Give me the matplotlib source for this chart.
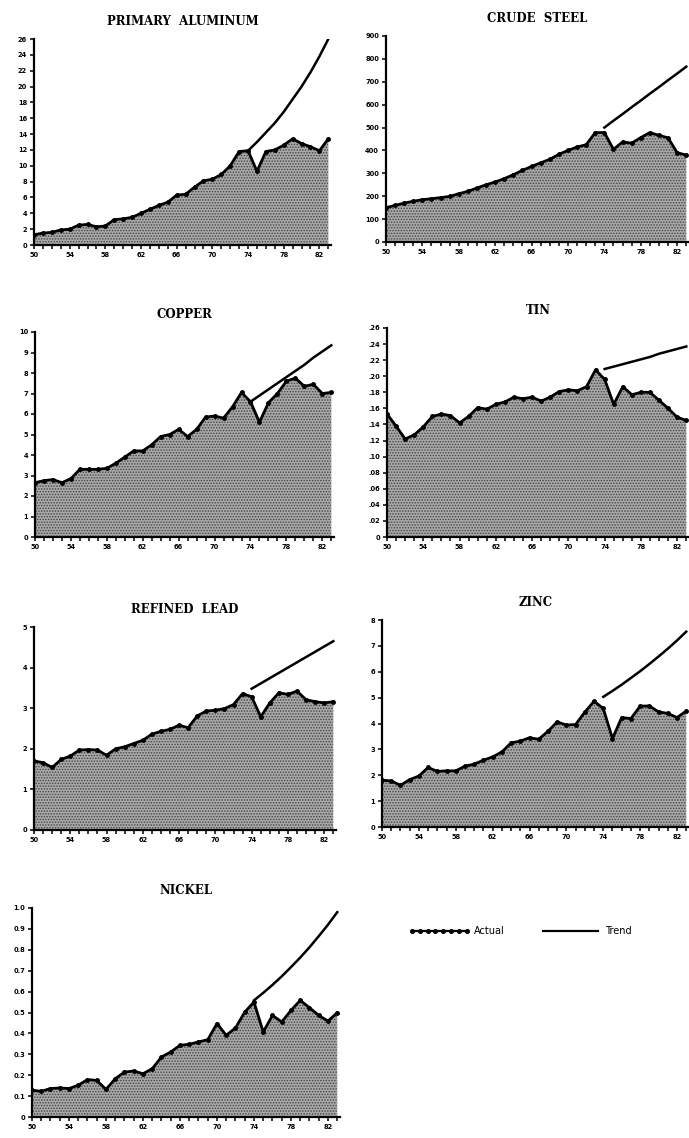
import matplotlib
matplotlib.use('Agg')
import matplotlib.pyplot as plt
from matplotlib.lines import Line2D
import numpy as np

W, H = 689, 1138

# years 1950-1983, plotted as two-digit years
years = list(range(50, 84))
trend_years = list(range(74, 84))

aluminum = [1.3, 1.5, 1.6, 1.9, 2.0, 2.5, 2.6, 2.3, 2.4, 3.2, 3.3, 3.5, 4.0, 4.5, 5.0, 5.4, 6.3,
            6.4, 7.3, 8.1, 8.3, 8.9, 10.0, 11.8, 11.9, 9.3, 11.8, 12.0, 12.6, 13.4, 12.8, 12.4, 11.9, 13.4]
aluminum_trend = [11.9, 13.0, 14.2, 15.4, 16.8, 18.4, 20.0, 21.8, 23.8, 26.0]

steel = [150, 160, 170, 178, 185, 189, 194, 199, 211, 221, 236, 250, 262, 277, 294, 313, 330,
         346, 361, 383, 400, 415, 425, 478, 478, 405, 437, 432, 456, 478, 466, 455, 390, 380]
steel_trend = [500, 530, 559, 589, 618, 648, 677, 707, 736, 766]

copper = [2.65, 2.75, 2.8, 2.65, 2.85, 3.3, 3.3, 3.3, 3.35, 3.6, 3.9, 4.2, 4.2, 4.5, 4.9, 5.0, 5.25,
          4.9, 5.25, 5.85, 5.9, 5.8, 6.35, 7.05, 6.6, 5.6, 6.55, 7.0, 7.6, 7.75, 7.35, 7.45, 7.0, 7.05]
copper_trend = [6.6, 6.9, 7.2, 7.5, 7.8, 8.1, 8.4, 8.75, 9.05, 9.35]

tin = [.153, .138, .122, .127, .137, .150, .153, .151, .142, .150, .161, .159, .165, .168, .174, .172,
       .174, .169, .174, .181, .183, .182, .187, .208, .196, .165, .187, .177, .180, .180, .170, .160,
       .149, .145]
tin_trend = [.209, .212, .215, .218, .221, .224, .228, .231, .234, .237]

lead = [1.70, 1.66, 1.54, 1.74, 1.82, 1.97, 1.98, 1.97, 1.84, 2.0, 2.05, 2.13, 2.21, 2.36, 2.43, 2.48,
        2.58, 2.52, 2.81, 2.93, 2.95, 2.99, 3.09, 3.36, 3.28, 2.79, 3.13, 3.38, 3.34, 3.42, 3.21, 3.16,
        3.13, 3.16]
lead_trend = [3.48, 3.61, 3.74, 3.87, 4.0, 4.13, 4.26, 4.39, 4.52, 4.65]

zinc = [1.81, 1.78, 1.61, 1.83, 1.97, 2.30, 2.15, 2.17, 2.17, 2.35, 2.43, 2.58, 2.71, 2.90, 3.25, 3.32,
        3.45, 3.39, 3.70, 4.06, 3.94, 3.96, 4.44, 4.86, 4.58, 3.42, 4.23, 4.19, 4.67, 4.68, 4.45, 4.39,
        4.23, 4.48]
zinc_trend = [5.03, 5.26, 5.50, 5.76, 6.02, 6.30, 6.59, 6.89, 7.21, 7.55]

nickel = [.128, .123, .136, .139, .136, .152, .179, .175, .132, .183, .215, .220, .207, .231, .287, .311,
          .343, .348, .359, .370, .447, .391, .426, .502, .550, .407, .486, .455, .510, .558, .523, .486,
          .459, .499]
nickel_trend = [.558, .594, .632, .673, .717, .763, .812, .865, .920, .980]

xtick_labels = [50, 54, 58, 62, 66, 70, 74, 78, 82]

fig = plt.figure(figsize=(W / 100, H / 100), dpi=100)
plt.rcParams['hatch.linewidth'] = 0.7


def panel(box, title, actual, trend, ymax, step, fmt):
    left, top, right, bottom = box
    ax = fig.add_axes([left / W, 1 - bottom / H, (right - left) / W, (bottom - top) / H])
    ax.fill_between(years, actual, 0, facecolor='#a8a8a8', edgecolor='#444444',
                    hatch='......', linewidth=0)
    ax.plot(years, actual, color='black', lw=2, marker='o', ms=2.5, solid_joinstyle='round')
    ax.plot(trend_years, trend, color='black', lw=1.8)
    ax.set_xlim(50, 83.3)
    ax.set_ylim(0, ymax)
    ax.set_xticks(xtick_labels)
    ax.set_xticklabels([str(v) for v in xtick_labels])
    ax.set_xticks(years, minor=True)
    yt = np.arange(0, ymax + step / 2, step)
    ax.set_yticks(yt)
    ax.set_yticklabels([fmt(v) for v in yt])
    for s in ['top', 'right']:
        ax.spines[s].set_visible(False)
    for s in ['left', 'bottom']:
        ax.spines[s].set_linewidth(1.6)
    ax.tick_params(which='both', direction='out', length=3, width=1.1, pad=2)
    for lab in ax.get_xticklabels() + ax.get_yticklabels():
        lab.set_fontsize(4.8)
        lab.set_fontweight('bold')
        lab.set_family('DejaVu Sans')
    ax.set_title(title, fontsize=8.5, fontweight='bold', family='DejaVu Serif', pad=10)
    return ax


def int_fmt(v):
    return '%d' % round(v)


def tin_fmt(v):
    return '0' if v == 0 else ('%.2f' % v)[1:]


def one_dec(v):
    return '0' if v == 0 else '%.1f' % v


panel((34, 39, 331, 245), 'PRIMARY  ALUMINUM', aluminum, aluminum_trend, 26, 2, int_fmt)
panel((386, 36, 689, 242), 'CRUDE  STEEL', steel, steel_trend, 900, 100, int_fmt)
panel((35, 332, 334, 537), 'COPPER', copper, copper_trend, 10, 1, int_fmt)
panel((387, 328, 689, 537), 'TIN', tin, tin_trend, 0.26, 0.02, tin_fmt)
panel((34, 627, 336, 830), 'REFINED  LEAD', lead, lead_trend, 5, 1, int_fmt)
panel((382, 620, 689, 827), 'ZINC', zinc, zinc_trend, 8, 1, int_fmt)
panel((32, 908, 340, 1117), 'NICKEL', nickel, nickel_trend, 1.0, 0.1, one_dec)

handles = [Line2D([], [], color='black', lw=1.6, marker='o', ms=2.6),
           Line2D([], [], color='black', lw=1.6)]
fig.legend(handles, ['Actual', 'Trend'], loc='center left',
           bbox_to_anchor=(400 / W, 1 - 931 / H), ncol=2, frameon=False,
           handlelength=6.3, numpoints=8, columnspacing=3.6, handletextpad=0.4,
           prop={'family': 'DejaVu Sans', 'size': 7})

fig.savefig('out.png', dpi=100)
